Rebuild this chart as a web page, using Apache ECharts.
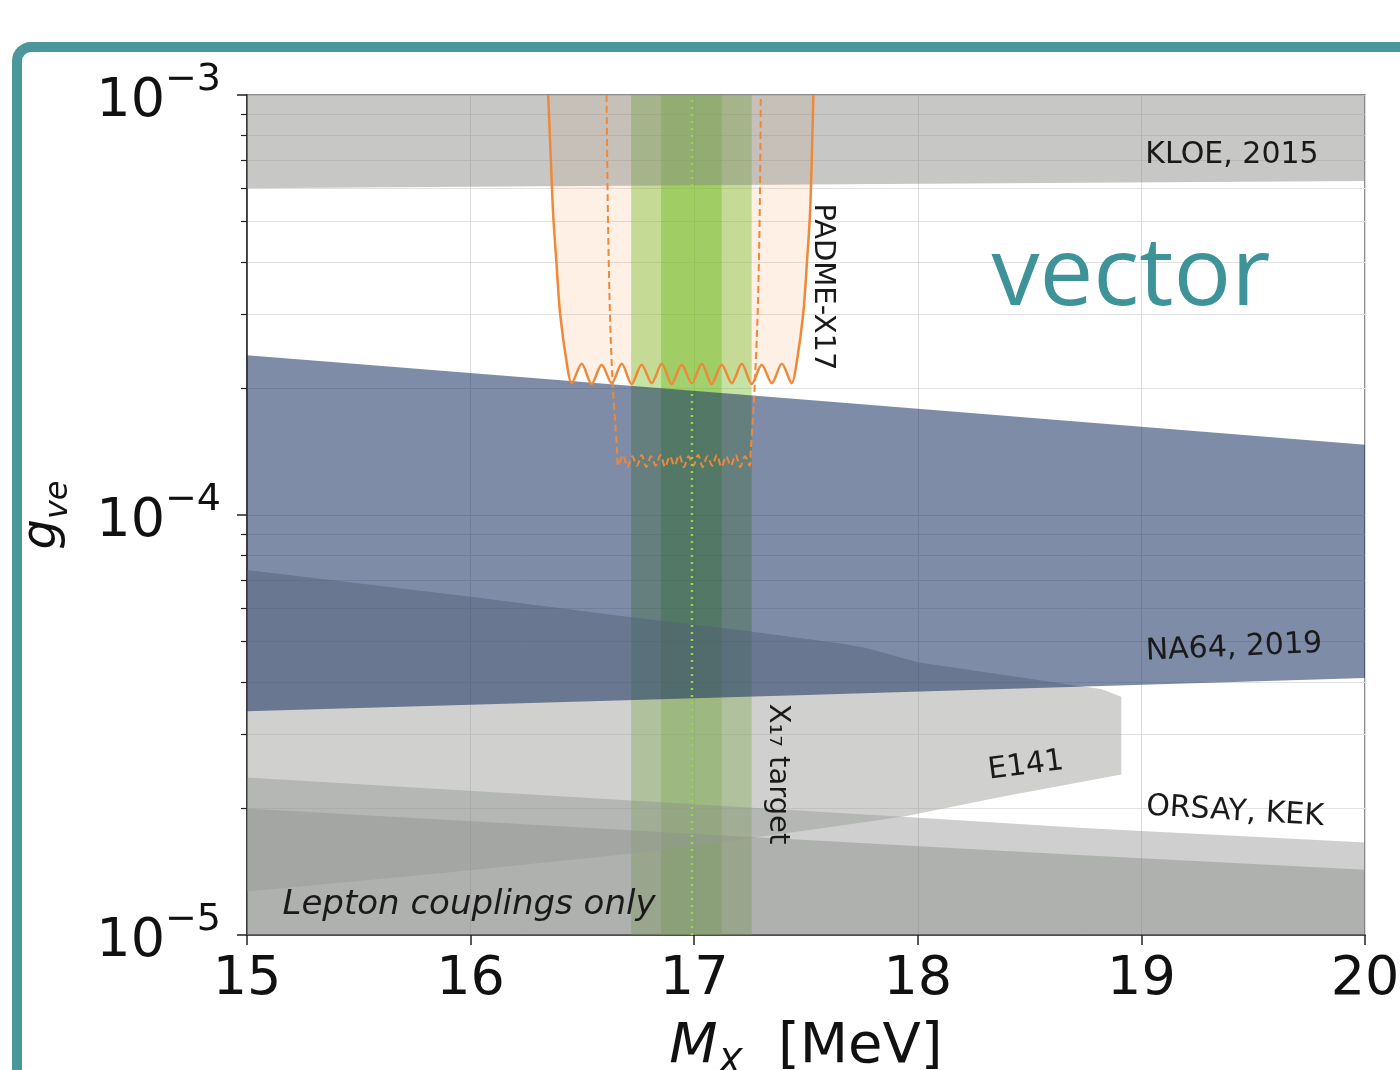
<!DOCTYPE html>
<html>
<head>
<meta charset="utf-8">
<title>X17 vector coupling limits</title>
<script src="https://cdn.jsdelivr.net/npm/echarts@6/dist/echarts.min.js"></script>
<style>
    html, body { margin: 0; padding: 0; background: #fff; }
    #chart { width: 1400px; height: 1070px; }
</style>
</head>
<body>
<div id="chart"></div>
<script>
// Trục
const massRange = [15, 20];          // M_X [MeV]
const couplingRange = [1e-5, 1e-3];  // g_ve

// KLOE, 2015 : cạnh dưới của vùng loại trừ (cạnh trên = 1e-3)
const kloeLower = [[15, 6.0e-4], [17.5, 6.12e-4], [20, 6.24e-4]];

// NA64, 2019
const na64Upper = [[15, 2.40e-4], [17.5, 1.88e-4], [20, 1.47e-4]];
const na64Lower = [[15, 3.41e-5], [17.5, 3.73e-5], [20, 4.09e-5]];

// E141
const e141Upper = [[15, 7.40e-5], [16.01, 6.38e-5], [16.71, 5.72e-5], [17.2, 5.32e-5], [17.65, 4.95e-5],
    [17.77, 4.82e-5], [18.0, 4.46e-5], [18.69, 3.94e-5], [18.82, 3.85e-5], [18.91, 3.69e-5]];
const e141Lower = [[15, 1.27e-5], [15.91, 1.41e-5], [16.85, 1.59e-5], [17.65, 1.82e-5], [17.95, 1.92e-5],
    [18.37, 2.13e-5], [18.91, 2.41e-5]];

// ORSAY, KEK (hai dải, cạnh dưới = 1e-5)
const orsayUpper = [[15, 2.37e-5], [16.85, 2.07e-5], [17.95, 1.91e-5], [18.72, 1.80e-5], [20, 1.66e-5]];
const kekUpper = [[15, 2.00e-5], [16.85, 1.76e-5], [18.72, 1.55e-5], [20, 1.43e-5]];

// PADME-X17, đường liền
const padmeLeft = [[16.347, 1.0e-3], [16.357, 7.40e-4], [16.369, 5.23e-4], [16.384, 3.98e-4],
    [16.400, 3.03e-4], [16.430, 2.30e-4]];
const padmeWave = [[16.452, 2.06e-4], [16.497, 2.29e-4], [16.541, 2.05e-4], [16.586, 2.28e-4],
    [16.631, 2.06e-4], [16.676, 2.29e-4], [16.720, 2.05e-4], [16.765, 2.28e-4], [16.810, 2.06e-4],
    [16.855, 2.29e-4], [16.899, 2.05e-4], [16.944, 2.28e-4], [16.989, 2.06e-4], [17.034, 2.29e-4],
    [17.078, 2.05e-4], [17.123, 2.28e-4], [17.168, 2.06e-4], [17.213, 2.29e-4], [17.257, 2.05e-4],
    [17.302, 2.28e-4], [17.347, 2.06e-4], [17.392, 2.29e-4], [17.436, 2.06e-4]];
const padmeRight = [[17.458, 2.30e-4], [17.488, 3.03e-4], [17.504, 3.98e-4], [17.518, 5.23e-4],
    [17.527, 7.40e-4], [17.533, 1.0e-3]];

// PADME-X17, đường nét đứt
const padmeDashLeft = [[16.608, 1.0e-3], [16.614, 5.23e-4], [16.623, 3.03e-4], [16.635, 2.06e-4],
    [16.646, 1.68e-4], [16.655, 1.43e-4]];
const padmeDashWave = [[16.660, 1.31e-4], [16.681, 1.39e-4], [16.702, 1.30e-4], [16.723, 1.38e-4],
    [16.744, 1.31e-4], [16.765, 1.39e-4], [16.786, 1.30e-4], [16.807, 1.38e-4], [16.828, 1.31e-4],
    [16.849, 1.39e-4], [16.870, 1.30e-4], [16.891, 1.38e-4], [16.912, 1.31e-4], [16.933, 1.39e-4],
    [16.954, 1.30e-4], [16.975, 1.38e-4], [16.996, 1.31e-4], [17.017, 1.39e-4], [17.038, 1.30e-4],
    [17.059, 1.38e-4], [17.080, 1.31e-4], [17.101, 1.39e-4], [17.122, 1.30e-4], [17.143, 1.38e-4],
    [17.164, 1.31e-4], [17.185, 1.39e-4], [17.206, 1.30e-4], [17.227, 1.38e-4], [17.248, 1.31e-4]];
const padmeDashRight = [[17.253, 1.43e-4], [17.262, 1.68e-4], [17.271, 2.06e-4], [17.284, 3.03e-4],
    [17.293, 5.23e-4], [17.298, 1.0e-3]];

// X17 target
const x17Outer = [16.718, 17.257];
const x17Inner = [16.852, 17.123];
const x17Center = 16.99;

const padmeSolid = padmeLeft.concat(padmeWave, padmeRight);
const padmeDashed = padmeDashLeft.concat(padmeDashWave, padmeDashRight);

function band(upper, lower) {
    return upper.concat(lower.slice().reverse());
}
function vstrip(xs) {
    return [[xs[0], couplingRange[0]], [xs[1], couplingRange[0]], [xs[1], couplingRange[1]], [xs[0], couplingRange[1]]];
}

function polygonSeries(name, pts, fill, z) {
    return {
        type: 'custom',
        name: name,
        coordinateSystem: 'cartesian2d',
        silent: true,
        z: z,
        data: pts,
        encode: { x: 0, y: 1 },
        renderItem: function (params, api) {
            if (params.dataIndex !== 0) return null;
            var points = pts.map(function (p) { return api.coord(p); });
            return { type: 'polygon', shape: { points: points }, style: { fill: fill } };
        }
    };
}

var chartDom = document.getElementById('chart');
var myChart = echarts.init(chartDom);

const axisFont = 'DejaVu Sans';
const annFont = { fontFamily: 'DejaVu Sans', fontSize: 30, fill: '#1a1a1a' };

function annText(text, x, y, rot, extra) {
    return {
        type: 'text', x: x, y: y, rotation: rot || 0, z: 50,
        style: Object.assign({
            text: text, align: 'center', verticalAlign: 'middle',
            textAlign: 'center', textVerticalAlign: 'middle'
        }, annFont, extra || {})
    };
}

var option = {
    animation: false,
    backgroundColor: '#fff',
    grid: {
        left: 247, right: 35, top: 95, bottom: 135,
        containLabel: false,
        outerBoundsMode: 'none',
        show: true, borderColor: '#666', borderWidth: 1.5
    },
    xAxis: {
        type: 'value',
        min: massRange[0], max: massRange[1], interval: 1,
        name: '{i|M}{sub|X}{n|  [MeV]}',
        nameLocation: 'middle',
        nameGap: 84,
        nameTextStyle: {
            rich: {
                i: { fontFamily: axisFont, fontStyle: 'italic', fontSize: 56, color: '#111', lineHeight: 64, verticalAlign: 'top' },
                sub: { fontFamily: axisFont, fontStyle: 'italic', fontSize: 36, color: '#111', lineHeight: 64, verticalAlign: 'bottom' },
                n: { fontFamily: axisFont, fontSize: 56, color: '#111', lineHeight: 64, verticalAlign: 'top' }
            }
        },
        axisLine: { show: true, lineStyle: { color: '#222', width: 1.5 } },
        axisTick: { show: true, length: 10, lineStyle: { color: '#222', width: 1.5 } },
        axisLabel: { fontFamily: axisFont, fontSize: 54, color: '#111', margin: 18 },
        splitLine: { show: true, lineStyle: { color: '#dcdcdc', width: 1 } }
    },
    yAxis: {
        type: 'log',
        logBase: 10,
        min: couplingRange[0], max: couplingRange[1],
        name: '{g|g}{s|ve}',
        nameLocation: 'middle',
        nameRotate: 90,
        nameGap: 172,
        nameTextStyle: {
            rich: {
                g: { fontFamily: axisFont, fontStyle: 'italic', fontSize: 48, color: '#111', lineHeight: 56, verticalAlign: 'top' },
                s: { fontFamily: axisFont, fontStyle: 'italic', fontSize: 32, color: '#111', lineHeight: 56, verticalAlign: 'bottom' }
            }
        },
        axisLine: { show: true, lineStyle: { color: '#222', width: 1.5 } },
        axisTick: { show: true, length: 10, lineStyle: { color: '#222', width: 1.5 } },
        minorTick: { show: true, splitNumber: 9, length: 6, lineStyle: { color: '#222', width: 1.2 } },
        axisLabel: {
            margin: 26,
            formatter: function (v) {
                return '{b|10}{s|\u2212' + (-Math.round(Math.log10(v))) + '}';
            },
            rich: {
                b: { fontFamily: axisFont, fontSize: 54, color: '#111', lineHeight: 68, verticalAlign: 'bottom' },
                s: { fontFamily: axisFont, fontSize: 38, color: '#111', lineHeight: 68, verticalAlign: 'top' }
            }
        },
        splitLine: { show: true, lineStyle: { color: '#dcdcdc', width: 1 } },
        minorSplitLine: { show: true, lineStyle: { color: '#e2e2e2', width: 1 } }
    },
    series: [
        polygonSeries('PADME fill', padmeSolid, 'rgba(250,150,70,0.14)', 1),
        polygonSeries('X17 outer', vstrip(x17Outer), 'rgba(110,185,30,0.40)', 2),
        polygonSeries('X17 inner', vstrip(x17Inner), 'rgba(110,185,30,0.40)', 2),
        polygonSeries('ORSAY', band(orsayUpper, [[15, couplingRange[0]], [20, couplingRange[0]]]), 'rgba(125,130,125,0.38)', 3),
        polygonSeries('KEK', band(kekUpper, [[15, couplingRange[0]], [20, couplingRange[0]]]), 'rgba(125,130,125,0.38)', 3),
        polygonSeries('E141', band(e141Upper, e141Lower), 'rgba(150,153,148,0.45)', 4),
        polygonSeries('NA64', band(na64Upper, na64Lower), 'rgba(20,45,95,0.55)', 5),
        polygonSeries('KLOE', band([[15, couplingRange[1]], [20, couplingRange[1]]], kloeLower), 'rgba(130,133,128,0.45)', 5),
        {
            type: 'line', name: 'PADME-X17', data: padmeSolid, z: 6,
            symbol: 'none', smooth: 0.3, silent: true,
            lineStyle: { color: '#f0883a', width: 2.5 }
        },
        {
            type: 'line', name: 'PADME-X17 dashed', data: padmeDashed, z: 6,
            symbol: 'none', smooth: 0.3, silent: true,
            lineStyle: { color: '#f0883a', width: 2, type: [7, 4] }
        },
        {
            type: 'line', name: 'X17 center', z: 7, symbol: 'none', silent: true,
            data: [[x17Center, couplingRange[0]], [x17Center, couplingRange[1]]],
            lineStyle: { color: '#93d64e', width: 2.5, type: [2, 5] }
        }
    ],
    graphic: [
        {
            type: 'rect', z: 40,
            shape: { x: 17, y: 47, width: 1500, height: 1100, r: 14 },
            style: { fill: 'none', stroke: '#4a979c', lineWidth: 10 }
        },
        annText('vector', 1131, 278, 0, { fontFamily: 'Open Sans', fontSize: 96, fill: '#3e9398' }),
        annText('KLOE, 2015', 1232, 155, 0),
        annText('PADME-X17', 823, 287, -Math.PI / 2, { fontSize: 29 }),
        annText('NA64, 2019', 1234, 648, 0.045),
        annText('E141', 1026, 766, 0.13),
        annText('ORSAY, KEK', 1235, 812, -0.06),
        annText('X\u2081\u2087 target', 778, 774, -Math.PI / 2, { fontSize: 29 }),
        annText('Lepton couplings only', 469, 905, 0, { fontSize: 34, fontStyle: 'italic' })
    ]
};

myChart.setOption(option);
</script>
</body>
</html>
